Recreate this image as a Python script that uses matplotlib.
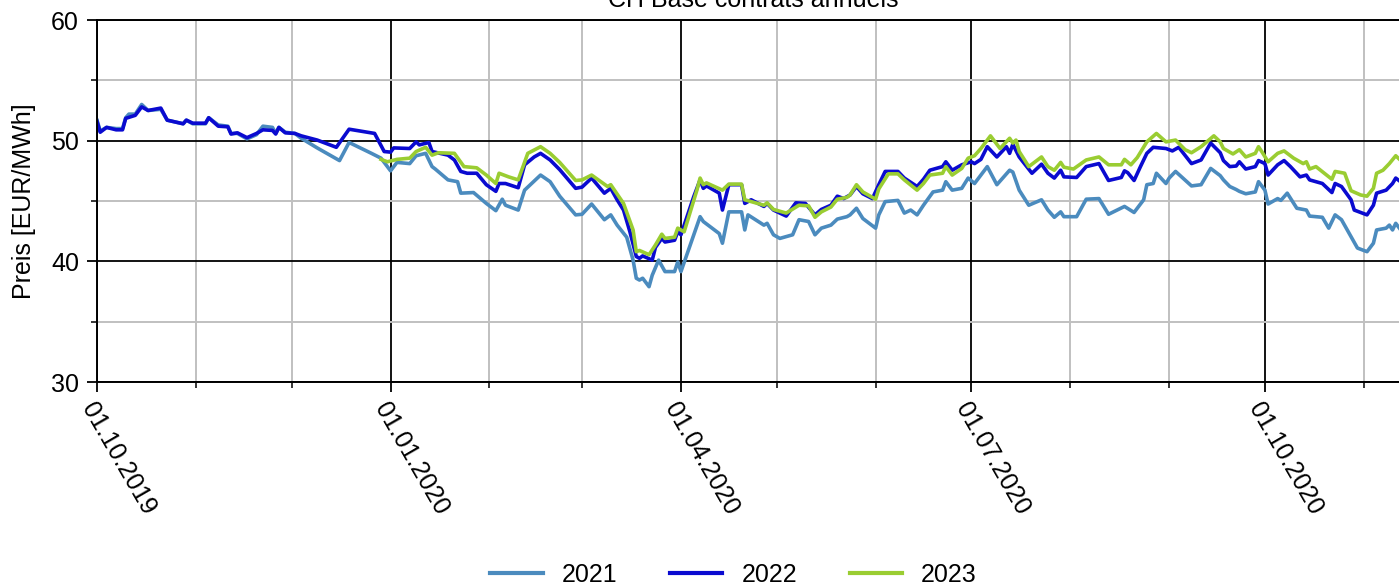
import matplotlib
matplotlib.use('Agg')
import matplotlib.pyplot as plt
import matplotlib.dates as mdates
from matplotlib.ticker import MultipleLocator
from matplotlib.lines import Line2D
import pandas as pd

plt.rcParams['font.family'] = ['Liberation Sans', 'DejaVu Sans']

title = 'CH Base contrats annuels'
ylabel = 'Preis [EUR/MWh]'
series_names = ['2021', '2022', '2023']
colors = ['#4b8bbe', '#0a0ad0', '#9acd32']
start_date = '2019-10-01'
end_date = '2020-11-15'

# day offsets from 01.10.2019 and prices (EUR/MWh)
days_2021 = [0, 1, 3, 6, 8, 9, 10, 12, 14, 16,
             20, 22, 27, 28, 30, 34, 35, 38, 41, 42,
             44, 47, 50, 52, 55, 56, 57, 59, 62, 64,
             69, 73, 76, 79, 86, 89, 92, 94, 98, 100,
             103, 105, 106, 110, 113, 114, 118, 122, 125, 127,
             128, 132, 134, 139, 142, 145, 150, 152, 155, 159,
             161, 163, 166, 168, 169, 170, 171, 173, 174, 176,
             178, 181, 182, 183, 189, 190, 195, 196, 198, 202,
             203, 204, 209, 210, 212, 214, 216, 218, 220, 223,
             225, 227, 230, 232, 235, 236, 238, 240, 244, 245,
             247, 251, 253, 255, 257, 259, 262, 265, 266, 268,
             271, 273, 275, 279, 282, 286, 287, 289, 292, 296,
             298, 300, 302, 303, 307, 310, 314, 317, 322, 325,
             328, 329, 331, 332, 335, 336, 338, 343, 346, 349,
             352, 353, 355, 357, 358, 360, 363, 364, 366, 367,
             370, 371, 373, 376, 379, 380, 384, 386, 388, 390,
             393, 395, 398, 400, 401, 404, 405, 406, 407, 409]
vals_2021 = [51.7, 50.8, 51.1, 51.0, 51.0, 51.9, 52.2, 52.2, 53.0, 52.5,
             52.6, 51.7, 51.4, 51.7, 51.4, 51.4, 51.9, 51.3, 51.2, 50.6,
             50.6, 50.15, 50.5, 51.2, 51.1, 50.6, 51.1, 50.7, 50.6, 50.2,
             49.4, 48.8, 48.35, 49.85, 48.95, 48.55, 47.5, 48.2, 48.1, 48.75,
             48.95, 47.85, 47.65, 46.75, 46.6, 45.65, 45.7, 44.8, 44.2, 45.15,
             44.65, 44.25, 45.9, 47.15, 46.6, 45.4, 43.85, 43.9, 44.75, 43.45,
             43.85, 43.0, 42.0, 40.1, 38.6, 38.45, 38.6, 37.9, 38.85, 40.1,
             39.15, 39.15, 39.95, 39.15, 43.7, 43.3, 42.3, 41.5, 44.1, 44.1,
             42.6, 43.85, 43.0, 43.15, 42.2, 41.9, 42.05, 42.2, 43.45, 43.3,
             42.2, 42.75, 43.0, 43.5, 43.7, 43.85, 44.4, 43.55, 42.75, 43.85,
             44.95, 45.05, 44.0, 44.25, 43.85, 44.65, 45.75, 45.9, 46.6, 45.9,
             46.05, 46.9, 46.45, 47.85, 46.35, 47.55, 47.4, 45.9, 44.65, 45.1,
             44.25, 43.65, 44.1, 43.7, 43.7, 45.15, 45.2, 43.9, 44.55, 44.05,
             45.1, 46.35, 46.45, 47.3, 46.45, 46.9, 47.45, 46.25, 46.35, 47.7,
             47.1, 46.75, 46.2, 45.95, 45.8, 45.6, 45.75, 46.6, 45.9, 44.75,
             45.2, 45.05, 45.65, 44.4, 44.25, 43.75, 43.65, 42.75, 43.85, 43.45,
             42.05, 41.1, 40.8, 41.5, 42.6, 42.75, 43.0, 42.6, 43.15, 42.45]

days_2022 = [0, 1, 3, 6, 8, 9, 12, 14, 16, 20,
             22, 27, 28, 30, 34, 35, 38, 41, 42, 44,
             47, 50, 52, 55, 56, 57, 59, 62, 64, 69,
             73, 75, 79, 87, 90, 92, 93, 98, 100, 101,
             104, 105, 110, 112, 114, 116, 119, 122, 125, 126,
             128, 132, 134, 137, 139, 142, 145, 150, 152, 155,
             159, 161, 163, 165, 167, 169, 170, 171, 174, 175,
             177, 178, 181, 182, 183, 187, 189, 190, 191, 195,
             196, 198, 202, 203, 205, 209, 210, 212, 216, 219,
             222, 225, 227, 230, 232, 234, 236, 238, 240, 243,
             245, 247, 251, 253, 257, 259, 261, 265, 266, 268,
             271, 274, 275, 277, 279, 282, 285, 286, 287, 289,
             293, 296, 298, 300, 302, 303, 307, 310, 314, 317,
             321, 322, 323, 325, 327, 329, 331, 335, 337, 339,
             343, 346, 349, 352, 353, 355, 357, 358, 360, 363,
             364, 366, 367, 370, 372, 374, 377, 379, 380, 384,
             387, 388, 390, 393, 394, 398, 400, 401, 404, 406,
             407, 409]
vals_2022 = [51.6, 50.7, 51.1, 50.9, 50.9, 51.85, 52.1, 52.8, 52.5, 52.7,
             51.7, 51.4, 51.7, 51.45, 51.45, 51.9, 51.2, 51.15, 50.55, 50.65,
             50.25, 50.6, 50.9, 50.85, 50.55, 51.1, 50.65, 50.6, 50.4, 50.05,
             49.65, 49.45, 50.95, 50.6, 49.1, 49.05, 49.4, 49.35, 49.9, 49.65,
             49.85, 49.1, 48.8, 48.4, 47.45, 47.3, 47.3, 46.35, 45.8, 46.45,
             46.45, 46.1, 48.0, 48.65, 48.95, 48.4, 47.6, 46.05, 46.15, 46.9,
             45.65, 46.05, 45.1, 44.25, 42.45, 40.4, 40.25, 40.45, 40.1, 41.15,
             41.9, 41.6, 41.75, 42.45, 42.2, 45.35, 46.75, 46.05, 46.25, 45.65,
             44.25, 46.35, 46.35, 44.8, 45.1, 44.55, 44.8, 44.25, 43.75, 44.85,
             44.8, 43.85, 44.3, 44.65, 45.4, 45.2, 45.5, 46.2, 45.6, 45.2,
             46.35, 47.45, 47.45, 46.9, 46.2, 46.8, 47.55, 47.85, 48.25, 47.55,
             48.0, 48.25, 48.1, 48.45, 49.5, 48.65, 49.5, 48.95, 49.7, 48.65,
             47.3, 48.05, 47.3, 46.9, 47.55, 47.0, 46.95, 47.85, 48.1, 46.7,
             46.95, 47.5, 47.35, 46.7, 47.85, 48.95, 49.45, 49.35, 49.15, 49.45,
             48.1, 48.4, 49.8, 49.0, 48.35, 47.85, 47.9, 48.25, 47.65, 47.85,
             48.35, 48.1, 47.15, 48.0, 48.35, 47.85, 47.0, 47.15, 46.75, 46.45,
             45.7, 46.45, 46.2, 45.1, 44.25, 43.85, 44.65, 45.65, 45.9, 46.45,
             46.9, 46.5]

days_2023 = [89, 91, 94, 98, 100, 103, 105, 107, 112, 115,
             119, 122, 125, 126, 129, 132, 135, 139, 142, 145,
             150, 152, 155, 160, 161, 165, 168, 169, 170, 173,
             175, 177, 178, 181, 182, 184, 188, 189, 190, 191,
             196, 198, 202, 203, 205, 209, 210, 212, 216, 220,
             223, 225, 227, 230, 232, 235, 236, 238, 240, 244,
             245, 248, 251, 253, 257, 259, 261, 265, 266, 268,
             271, 273, 275, 277, 280, 283, 286, 287, 288, 289,
             292, 296, 298, 300, 302, 303, 306, 310, 314, 317,
             321, 322, 324, 326, 329, 332, 335, 338, 341, 343,
             346, 350, 352, 353, 356, 358, 360, 363, 364, 365,
             367, 370, 372, 375, 378, 379, 380, 382, 387, 388,
             391, 393, 396, 398, 400, 401, 403, 405, 407, 409]
vals_2023 = [48.45, 48.25, 48.45, 48.55, 49.1, 49.45, 48.8, 49.0, 48.95, 47.85,
             47.75, 47.15, 46.45, 47.3, 47.0, 46.75, 48.95, 49.5, 48.95, 48.2,
             46.7, 46.75, 47.15, 46.2, 46.35, 44.8, 42.6, 40.8, 40.9, 40.55,
             41.35, 42.25, 41.9, 42.0, 42.75, 42.45, 45.9, 46.9, 46.35, 46.5,
             45.9, 46.4, 46.4, 45.1, 44.95, 44.65, 44.85, 44.3, 44.0, 44.65,
             44.6, 43.65, 44.1, 44.5, 45.15, 45.3, 45.5, 46.35, 45.75, 45.15,
             46.0, 47.25, 47.25, 46.75, 45.9, 46.45, 47.15, 47.3, 47.85, 47.15,
             47.7, 48.55, 48.75, 49.35, 50.4, 49.35, 50.2, 49.8, 50.05, 49.1,
             47.85, 48.65, 47.85, 47.55, 48.2, 47.8, 47.65, 48.4, 48.65, 48.0,
             48.0, 48.45, 48.0, 48.6, 49.9, 50.6, 49.9, 50.05, 49.25, 49.0,
             49.5, 50.4, 49.9, 49.35, 48.9, 49.25, 48.65, 48.95, 49.5, 49.1,
             48.25, 48.95, 49.15, 48.55, 48.1, 48.25, 47.65, 47.85, 46.8, 47.45,
             47.3, 45.85, 45.5, 45.4, 46.05, 47.3, 47.55, 48.1, 48.75, 48.25]

start = pd.Timestamp(start_date)


def to_dates(days):
    return start + pd.to_timedelta(days, unit='D')


W, H = 1399, 586
FS = 18
fig = plt.figure(figsize=(W / 100, H / 100), dpi=100)
ax = fig.add_axes([97 / W, 1 - 382 / H, (1408.5 - 97) / W, (382 - 20) / H])

all_days = [days_2021, days_2022, days_2023]
all_vals = [vals_2021, vals_2022, vals_2023]
for d, v, c, n in zip(all_days, all_vals, colors, series_names):
    ax.plot(to_dates(d), v, color=c, lw=2.6, label=n, solid_joinstyle='round')

ax.set_xlim(start, pd.Timestamp(end_date))
ax.set_ylim(30, 60)
ax.xaxis.set_major_locator(mdates.MonthLocator(bymonth=[1, 4, 7, 10]))
ax.xaxis.set_minor_locator(mdates.MonthLocator())
ax.xaxis.set_major_formatter(mdates.DateFormatter('%d.%m.%Y'))
ax.yaxis.set_major_locator(MultipleLocator(10))
ax.yaxis.set_minor_locator(MultipleLocator(5))

ax.grid(which='minor', color='#c0c0c0', lw=1.4)
ax.grid(which='major', color='black', lw=1.3)
ax.set_axisbelow(True)

for s in ax.spines.values():
    s.set_linewidth(1.4)
    s.set_color('black')

ax.tick_params(which='major', length=7, width=1.3, labelsize=FS, direction='out')
ax.tick_params(which='minor', length=4, width=1.1, direction='out')
ax.tick_params(axis='y', which='major', pad=6)
ax.tick_params(axis='x', which='major', pad=5)

for lbl in ax.get_xticklabels():
    lbl.set_rotation(-60)
    lbl.set_ha('left')
    lbl.set_va('top')
    lbl.set_rotation_mode('anchor')

ax.set_title(title, fontsize=FS, pad=9.5)
ax.set_ylabel(ylabel, fontsize=FS)
ax.yaxis.set_label_coords((36 - 97) / (1408.5 - 97), 0.5)

handles = [Line2D([], [], color=c, lw=3) for c in colors]
fig.legend(handles, series_names, loc='center', bbox_to_anchor=(733.5 / W, 1 - 575 / H),
           ncol=3, frameon=False, fontsize=FS, handlelength=2.1,
           handletextpad=0.76, columnspacing=2.1)

fig.savefig('out.png', dpi=100)
